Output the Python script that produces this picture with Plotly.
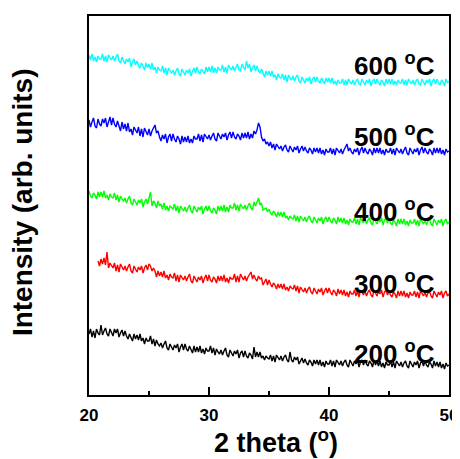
import numpy as np
import plotly.graph_objects as go

# 2-theta sampled every 0.125 degree from 20 to 50
two_theta = np.linspace(20, 50, 241)

i600 = [
    340, 335, 341, 334, 338, 333, 339, 336,
    336, 341, 334, 339, 333, 340, 337, 335,
    339, 334, 338, 341, 334, 332, 338, 334,
    331, 336, 333, 337, 328, 333, 336, 330,
    334, 329, 327, 332, 329, 325, 332, 327,
    331, 326, 332, 325, 328, 322, 328, 325,
    324, 329, 322, 327, 320, 327, 324, 322,
    325, 320, 324, 327, 321, 319, 326, 322,
    320, 325, 322, 326, 319, 324, 327, 322,
    328, 323, 321, 326, 324, 321, 328, 323,
    328, 323, 329, 322, 327, 322, 328, 325,
    325, 330, 323, 328, 322, 330, 327, 325,
    329, 324, 328, 331, 325, 324, 331, 327,
    325, 334, 327, 331, 323, 327, 330, 324,
    329, 324, 322, 326, 322, 318, 324, 320,
    324, 319, 324, 318, 320, 315, 321, 318,
    317, 321, 315, 320, 313, 320, 317, 315,
    319, 314, 318, 320, 314, 312, 318, 315,
    312, 317, 314, 318, 311, 316, 318, 313,
    318, 314, 312, 317, 314, 311, 317, 313,
    317, 312, 317, 311, 314, 310, 315, 312,
    312, 316, 310, 315, 310, 316, 313, 311,
    315, 310, 314, 316, 311, 310, 316, 312,
    310, 315, 312, 316, 309, 314, 316, 311,
    316, 312, 310, 315, 313, 309, 316, 311,
    316, 311, 316, 310, 314, 310, 315, 312,
    312, 316, 310, 315, 310, 316, 313, 311,
    315, 310, 314, 316, 311, 310, 316, 312,
    310, 315, 312, 316, 309, 314, 316, 311,
    316, 312, 310, 315, 313, 309, 316, 312,
    314]

i500 = [
    275, 268, 273, 277, 269, 267, 276, 271,
    269, 276, 272, 277, 268, 274, 278, 270,
    277, 271, 268, 274, 270, 264, 273, 266,
    271, 264, 272, 263, 266, 260, 268, 264,
    262, 268, 259, 266, 258, 267, 263, 260,
    266, 259, 264, 268, 270, 262, 264, 258,
    254, 260, 256, 261, 252, 258, 261, 254,
    261, 256, 253, 259, 256, 251, 259, 253,
    258, 253, 259, 252, 256, 252, 259, 256,
    256, 261, 254, 260, 253, 261, 258, 256,
    260, 255, 259, 262, 256, 254, 262, 258,
    256, 261, 258, 262, 255, 260, 263, 257,
    263, 258, 256, 261, 259, 255, 262, 257,
    262, 257, 263, 256, 261, 257, 264, 261,
    265, 272, 268, 258, 254, 256, 251, 253,
    249, 253, 247, 251, 245, 251, 248, 246,
    249, 244, 248, 250, 245, 243, 249, 246,
    243, 248, 245, 249, 242, 246, 249, 244,
    248, 244, 242, 247, 245, 241, 247, 243,
    247, 242, 247, 241, 245, 240, 246, 243,
    243, 247, 241, 246, 240, 247, 244, 242,
    246, 241, 245, 248, 251, 244, 247, 243,
    241, 246, 243, 247, 240, 245, 248, 242,
    247, 243, 241, 246, 244, 240, 247, 242,
    247, 242, 247, 241, 245, 240, 246, 243,
    243, 247, 241, 246, 240, 247, 244, 242,
    246, 241, 245, 248, 242, 240, 247, 243,
    241, 246, 243, 247, 240, 245, 248, 242,
    247, 243, 241, 246, 244, 240, 247, 242,
    247, 242, 247, 241, 245, 240, 246, 243,
    244]

i400 = [
    204, 199, 197, 202, 200, 196, 203, 198,
    203, 198, 204, 197, 200, 195, 201, 198,
    197, 202, 195, 200, 193, 199, 196, 194,
    197, 192, 196, 199, 192, 190, 196, 193,
    190, 195, 192, 196, 188, 193, 196, 191,
    196, 203, 189, 194, 192, 187, 194, 189,
    191, 186, 192, 185, 189, 184, 189, 187,
    186, 191, 184, 189, 182, 189, 186, 184,
    188, 183, 187, 190, 184, 182, 189, 185,
    183, 188, 185, 189, 181, 186, 189, 184,
    189, 184, 182, 187, 185, 181, 189, 184,
    189, 184, 190, 183, 188, 183, 190, 187,
    187, 192, 185, 190, 184, 191, 188, 186,
    190, 185, 189, 192, 187, 185, 193, 189,
    193, 197, 190, 192, 185, 186, 187, 183,
    186, 182, 180, 184, 182, 178, 183, 179,
    183, 178, 183, 177, 179, 175, 179, 177,
    176, 180, 174, 179, 173, 179, 176, 174,
    178, 173, 177, 179, 174, 172, 178, 174,
    172, 177, 174, 178, 171, 176, 178, 173,
    178, 174, 172, 177, 175, 171, 178, 173,
    177, 172, 177, 171, 175, 170, 176, 173,
    173, 177, 171, 176, 170, 177, 174, 172,
    176, 171, 175, 177, 172, 170, 177, 173,
    171, 176, 173, 177, 170, 175, 177, 172,
    176, 172, 170, 175, 173, 169, 176, 171,
    176, 171, 176, 170, 174, 169, 175, 172,
    172, 176, 170, 175, 169, 176, 173, 171,
    175, 170, 174, 176, 171, 169, 176, 172,
    170, 175, 172, 176, 169, 174, 176, 171,
    173]

i300 = [
    None, None, None, None, None, None, 134, 129,
    136, 131, 137, 130, 143, 127, 132, 129,
    127, 132, 124, 130, 123, 131, 128, 125,
    129, 124, 128, 131, 124, 122, 129, 125,
    123, 128, 125, 129, 122, 127, 130, 125,
    131, 129, 124, 127, 124, 118, 124, 119,
    123, 118, 124, 117, 120, 115, 121, 118,
    117, 122, 114, 120, 113, 120, 117, 115,
    119, 114, 118, 121, 114, 112, 119, 115,
    113, 118, 115, 119, 112, 117, 120, 114,
    120, 115, 113, 118, 116, 112, 119, 114,
    119, 114, 120, 113, 117, 112, 118, 116,
    116, 121, 113, 119, 113, 121, 117, 115,
    119, 114, 118, 121, 123, 116, 120, 116,
    114, 119, 116, 117, 110, 113, 116, 110,
    115, 111, 108, 112, 110, 106, 111, 107,
    111, 106, 111, 105, 108, 104, 109, 107,
    106, 110, 104, 109, 102, 108, 105, 103,
    107, 102, 106, 108, 103, 101, 107, 103,
    101, 106, 103, 107, 100, 104, 107, 102,
    107, 103, 100, 105, 103, 99, 106, 101,
    105, 100, 105, 99, 103, 98, 104, 101,
    101, 105, 99, 104, 98, 105, 102, 100,
    104, 99, 103, 105, 100, 98, 105, 101,
    99, 104, 101, 105, 98, 103, 105, 100,
    104, 100, 98, 103, 101, 97, 104, 99,
    104, 99, 104, 98, 102, 97, 103, 100,
    100, 104, 98, 103, 97, 104, 101, 99,
    103, 98, 102, 104, 99, 97, 104, 100,
    98, 103, 100, 104, 97, 102, 104, 99,
    101]

i200 = [
    61, 66, 58, 64, 57, 66, 62, 60,
    70, 60, 64, 67, 61, 59, 66, 62,
    59, 66, 62, 66, 58, 62, 65, 59,
    64, 59, 56, 61, 58, 54, 61, 56,
    60, 55, 61, 54, 57, 51, 57, 54,
    54, 59, 51, 56, 49, 55, 51, 49,
    52, 47, 51, 54, 47, 45, 51, 47,
    45, 50, 47, 51, 43, 48, 51, 45,
    51, 46, 44, 49, 46, 42, 49, 43,
    48, 43, 49, 42, 46, 41, 47, 44,
    44, 49, 42, 47, 40, 46, 43, 41,
    45, 40, 44, 47, 40, 38, 45, 41,
    39, 44, 41, 45, 37, 42, 44, 38,
    44, 39, 37, 42, 40, 36, 48, 38,
    43, 38, 43, 37, 39, 35, 39, 37,
    36, 40, 34, 39, 33, 40, 37, 35,
    39, 34, 38, 40, 35, 33, 43, 35,
    33, 38, 35, 38, 31, 35, 37, 32,
    36, 32, 30, 35, 33, 29, 35, 31,
    35, 30, 35, 29, 33, 28, 34, 31,
    31, 35, 29, 34, 28, 35, 32, 30,
    34, 29, 33, 35, 30, 28, 35, 31,
    29, 34, 31, 35, 28, 33, 35, 30,
    35, 31, 29, 34, 32, 28, 35, 30,
    34, 29, 34, 28, 32, 27, 33, 30,
    30, 34, 28, 33, 27, 34, 31, 29,
    33, 28, 32, 34, 29, 27, 34, 30,
    28, 33, 30, 34, 27, 32, 34, 29,
    34, 30, 28, 33, 31, 27, 34, 29,
    33, 28, 33, 27, 31, 26, 32, 29,
    30]

labels = ["200 <sup>o</sup>C", "300 <sup>o</sup>C", "400 <sup>o</sup>C",
          "500 <sup>o</sup>C", "600 <sup>o</sup>C"]
label_y = [43, 113, 185, 260, 331]
colors = ["#000000", "#ff0000", "#00ff00", "#0000ff", "#00ffff"]
data = [i200, i300, i400, i500, i600]

xtick_vals = [20, 30, 40, 50]
xtick_text = ["20", "30", "40", "50"]

FONT = "Arial, Liberation Sans, sans-serif"

fig = go.Figure()
for name, vals, color, ylab in zip(labels, data, colors, label_y):
    fig.add_trace(go.Scatter(x=two_theta, y=vals, mode="lines",
                             line=dict(color=color, width=1.4), name=name,
                             showlegend=False))
    fig.add_annotation(x=49.0, y=ylab, text=name, showarrow=False,
                       xanchor="right", yanchor="middle",
                       font=dict(family=FONT, size=26, color="black", weight="bold"))

fig.add_annotation(xref="paper", yref="paper", x=0.52, y=-0.122, text="2 theta (<sup>o</sup>)",
                   showarrow=False, xanchor="center", yanchor="middle",
                   font=dict(family=FONT, size=27, color="black", weight="bold"))
fig.add_annotation(xref="paper", yref="paper", x=-0.185, y=0.51, text="Intensity (arb. units)",
                   showarrow=False, textangle=-90, xanchor="center", yanchor="middle",
                   font=dict(family=FONT, size=28, color="black", weight="bold"))

# page body has an 8px default margin, so the figure is sized/offset to match
fig.update_layout(
    width=452, height=451,
    margin=dict(l=81, r=11, t=8, b=64, autoexpand=False),
    paper_bgcolor="white", plot_bgcolor="white",
    xaxis=dict(range=[20, 50], tickvals=xtick_vals, ticktext=xtick_text,
               showline=True, linecolor="black", linewidth=2, mirror=True,
               ticks="inside", ticklen=8, tickwidth=2, tickcolor="black",
               minor=dict(tickvals=[25, 35, 45], ticks="inside", ticklen=4, tickwidth=2, tickcolor="black"),
               showgrid=False, zeroline=False, automargin=False, ticklabelstandoff=4,
               tickfont=dict(family=FONT, size=17, color="black", weight="bold")),
    yaxis=dict(range=[0, 379], showline=True, linecolor="black", linewidth=2, mirror=True,
               showticklabels=False, ticks="", showgrid=False, zeroline=False, automargin=False),
)

fig.write_html("out.html")
